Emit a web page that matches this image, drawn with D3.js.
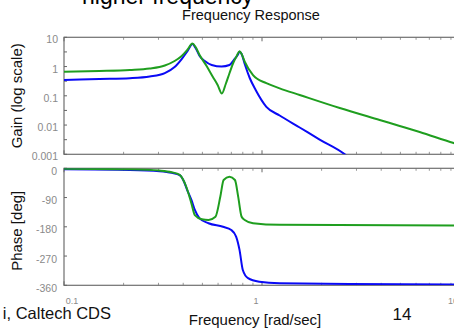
<!DOCTYPE html>
<html><head><meta charset="utf-8">
<script src="https://cdn.jsdelivr.net/npm/d3@7"></script>
<style>
html,body{margin:0;padding:0;background:#fff;overflow:hidden}
svg{display:block;font-family:"Liberation Sans",Arial,sans-serif}
</style></head>
<body>
<svg id="c" width="454" height="328"></svg>
<script>
// ---- data ----
const gainFreqBlue = [0.1,0.151,0.215,0.271,0.323,0.362,0.393,0.421,0.445,0.462,0.484,0.514,0.557,0.625,0.685,0.72,0.754,0.77,0.789,0.818,0.867,0.929,1.052,1.228,1.55,1.955,2.62,3.0];
const gainBlue     = [0.347,0.375,0.40,0.457,0.60,0.966,1.81,3.4,5.9,4.3,2.3,1.55,1.13,1.0,1.13,1.67,2.48,3.2,2.69,1.22,0.406,0.158,0.042,0.0212,0.00825,0.0032,0.001,0.00045];
const gainFreqGreen = [0.1,0.151,0.215,0.271,0.323,0.362,0.393,0.421,0.445,0.462,0.484,0.525,0.565,0.597,0.627,0.656,0.685,0.719,0.745,0.77,0.789,0.818,0.901,1.052,1.228,1.55,2.47,3.93,4.96,6.26,9.29,10];
const gainGreen     = [0.667,0.705,0.762,0.857,1.09,1.55,2.3,3.83,6.1,4.66,2.48,1.04,0.44,0.234,0.12,0.253,0.59,1.43,2.3,3.33,2.69,1.46,0.51,0.27,0.18,0.107,0.0383,0.0149,0.0093,0.00578,0.00243,0.0021];
const phaseFreqBlue = [0.1,0.215,0.304,0.35,0.384,0.403,0.419,0.44,0.458,0.484,0.537,0.635,0.70,0.74,0.77,0.80,0.85,0.97,1.228,2.77,10];
const phaseBlue     = [-3,-5,-9,-14,-21,-40,-67,-97,-128,-154,-169,-180,-190,-210,-251,-313,-338,-349,-354,-356,-357.5];
const phaseFreqGreen = [0.1,0.215,0.304,0.35,0.384,0.414,0.44,0.458,0.497,0.537,0.582,0.616,0.64,0.685,0.73,0.758,0.789,0.818,0.901,1.228,10];
const phaseGreen     = [-1,-3,-7,-12,-20,-56,-108,-144,-157,-159,-149,-87,-36,-26,-36,-87,-149,-159,-169,-174,-176];
const gainTicks  = [10,1,0.1,0.01,0.001];
const gainTickLabels = ["10","1","0.1","0.01","0.001"];
const phaseTicks = [0,-90,-180,-270,-360];
const freqTicks  = [0.1,1,10];
const freqTickLabels = ["0.1","1","10"];

// ---- layout ----
const left = 64, right = 460;
const gTop = 37.3, gBot = 154.3, pTop = 168.3, pBot = 285.3;
const axisCol = "#6f6f6f", tickTxt = "#8a8a8a";
const blue = "#0a0af5", green = "#1f9e1f";

const svg = d3.select("#c");
const x = d3.scaleLog().domain([0.1,10]).range([left,right]);
const yG = d3.scaleLog().domain([0.001,10]).range([gBot,gTop]);
const yP = d3.scaleLinear().domain([-360,0]).range([pBot,pTop]);

const defs = svg.append("defs");
defs.append("clipPath").attr("id","cg").append("rect").attr("x",left).attr("y",gTop).attr("width",right-left).attr("height",gBot-gTop);
defs.append("clipPath").attr("id","cp").append("rect").attr("x",left).attr("y",pTop).attr("width",right-left).attr("height",pBot-pTop);

const minorF = [];
[0.1,1].forEach(d=>{for(let k=2;k<=9;k++) minorF.push(d*k);});
function panel(top, bot){
  const g = svg.append("g");
  minorF.forEach(f=>{
    g.append("line").attr("x1",x(f)).attr("x2",x(f)).attr("y1",bot).attr("y2",bot-2.5).attr("stroke","#999").attr("stroke-width",1);
    g.append("line").attr("x1",x(f)).attr("x2",x(f)).attr("y1",top).attr("y2",top+2.5).attr("stroke","#999").attr("stroke-width",1);
  });
  freqTicks.forEach(f=>{
    g.append("line").attr("x1",x(f)).attr("x2",x(f)).attr("y1",bot).attr("y2",bot-4).attr("stroke","#666").attr("stroke-width",1);
    g.append("line").attr("x1",x(f)).attr("x2",x(f)).attr("y1",top).attr("y2",top+4).attr("stroke","#666").attr("stroke-width",1);
  });
  g.append("rect").attr("x",left).attr("y",top).attr("width",right-left).attr("height",bot-top)
    .attr("fill","none").attr("stroke",axisCol).attr("stroke-width",1.2);
  return g;
}
const gp = panel(gTop,gBot);
const pp = panel(pTop,pBot);

for(let e=-3;e<=1;e+=0.5){
  const yy = yG(Math.pow(10,e));
  gp.append("line").attr("x1",left).attr("x2",left+3).attr("y1",yy).attr("y2",yy).attr("stroke","#666");
}
gainTicks.forEach((v,i)=>{
  svg.append("text").attr("x",left-6).attr("y",yG(v)+2.5).attr("dy","0.35em")
    .attr("text-anchor","end").attr("font-size",10.5).attr("fill",tickTxt).text(gainTickLabels[i]);
});
phaseTicks.forEach(v=>{
  pp.append("line").attr("x1",left).attr("x2",left+3).attr("y1",yP(v)).attr("y2",yP(v)).attr("stroke","#666");
  svg.append("text").attr("x",left-7).attr("y",yP(v)+2.8).attr("dy","0.35em")
    .attr("text-anchor","end").attr("font-size",10.5).attr("fill",tickTxt).text(v);
});
const fOff = {"0.1":8,"1":-6,"10":-7};
freqTicks.forEach((v,i)=>{
  svg.append("text").attr("x",x(v)+fOff[freqTickLabels[i]]).attr("y",304)
    .attr("text-anchor","middle").attr("font-size",9).attr("fill",tickTxt).text(freqTickLabels[i]);
});

const lineG = d3.line().x(d=>x(d[0])).y(d=>yG(d[1])).curve(d3.curveMonotoneX);
const lineP = d3.line().x(d=>x(d[0])).y(d=>yP(d[1])).curve(d3.curveMonotoneX);
const cg = svg.append("g").attr("clip-path","url(#cg)");
const cp = svg.append("g").attr("clip-path","url(#cp)");
cg.append("path").attr("d",lineG(d3.zip(gainFreqBlue,gainBlue))).attr("fill","none").attr("stroke",blue).attr("stroke-width",2).attr("stroke-linejoin","round");
cg.append("path").attr("d",lineG(d3.zip(gainFreqGreen,gainGreen))).attr("fill","none").attr("stroke",green).attr("stroke-width",2).attr("stroke-linejoin","round");
cp.append("path").attr("d",lineP(d3.zip(phaseFreqBlue,phaseBlue))).attr("fill","none").attr("stroke",blue).attr("stroke-width",2);
cp.append("path").attr("d",lineP(d3.zip(phaseFreqGreen,phaseGreen))).attr("fill","none").attr("stroke",green).attr("stroke-width",2);

svg.append("text").attr("x",82).attr("y",4).attr("font-size",23).attr("fill","#000").text("higher frequency");
svg.append("text").attr("x",251).attr("y",20).attr("text-anchor","middle").attr("font-size",14.5).attr("fill","#111").text("Frequency Response");
svg.append("text").attr("transform",`translate(22,${(gTop+gBot)/2}) rotate(-90)`).attr("text-anchor","middle").attr("font-size",15).attr("fill","#111").text("Gain (log scale)");
svg.append("text").attr("transform",`translate(22,${(pTop+pBot)/2+4}) rotate(-90)`).attr("text-anchor","middle").attr("font-size",15).attr("fill","#111").text("Phase [deg]");
svg.append("text").attr("x",255).attr("y",325).attr("text-anchor","middle").attr("font-size",15).attr("fill","#111").text("Frequency [rad/sec]");
svg.append("text").attr("x",111).attr("y",319).attr("text-anchor","end").attr("font-size",16.5).attr("fill","#111").text("i, Caltech CDS");
svg.append("text").attr("x",402).attr("y",320).attr("text-anchor","middle").attr("font-size",17).attr("fill","#111").text("14");
</script>
</body></html>
